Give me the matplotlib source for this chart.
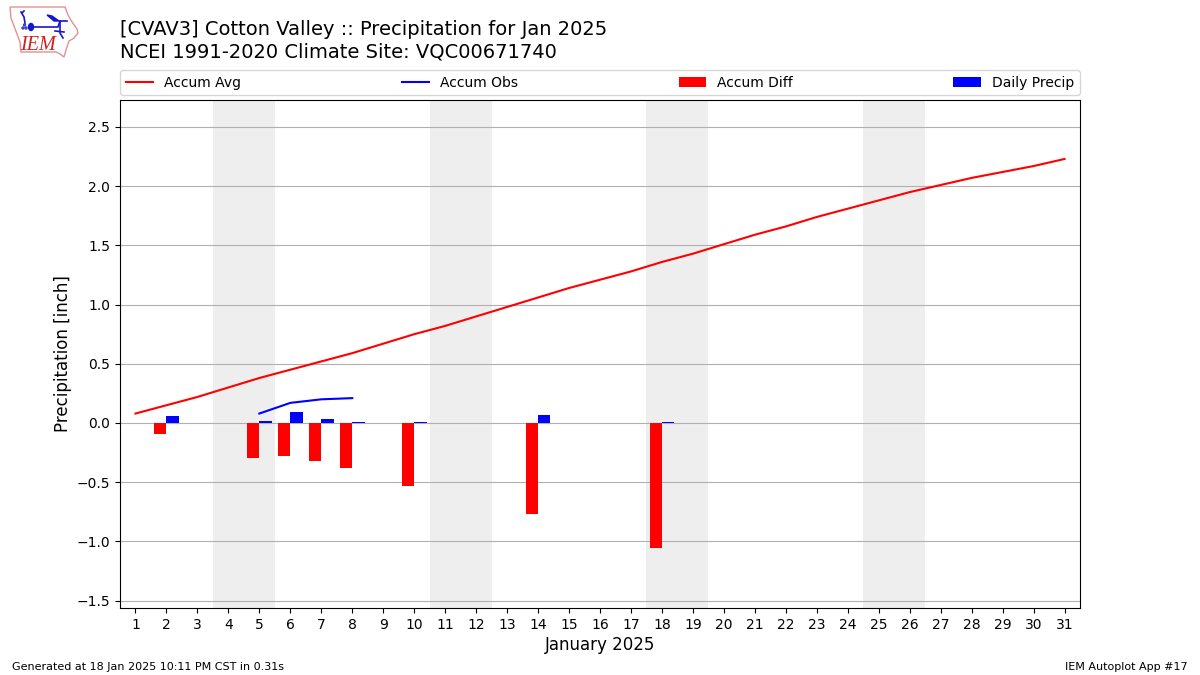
"""IEM Autoplot style monthly precipitation chart for Cotton Valley."""

import matplotlib

matplotlib.use("Agg")
import matplotlib.patches as mpatches
import matplotlib.pyplot as plt
import numpy as np

days = np.arange(1, 32)
accum_avg = [0.08, 0.15, 0.22, 0.30, 0.38, 0.45, 0.52, 0.59, 0.67, 0.75, 0.82,
             0.90, 0.98, 1.06, 1.14, 1.21, 1.28, 1.36, 1.43, 1.51, 1.59, 1.66,
             1.74, 1.81, 1.88, 1.95, 2.01, 2.07, 2.12, 2.17, 2.23]
obs_days = [5, 6, 7, 8]
accum_obs = [0.08, 0.17, 0.20, 0.21]
bar_days = [2, 5, 6, 7, 8, 10, 14, 18]
accum_diff = [-0.09, -0.295, -0.28, -0.32, -0.38, -0.53, -0.77, -1.055]
daily_precip = [0.06, 0.02, 0.09, 0.03, 0.01, 0.01, 0.07, 0.01]
weekends = [(3.5, 5.5), (10.5, 12.5), (17.5, 19.5), (24.5, 26.5)]
title = "[CVAV3] Cotton Valley :: Precipitation for Jan 2025\nNCEI 1991-2020 Climate Site: VQC00671740"

W, H = 1200, 675


def px(x, y):
    """Figure fraction from reference pixel position."""
    return x / W, 1 - y / H


def draw_logo(fig):
    # rough redraw of the IEM logo, state outline plus the blue station mark
    outline = [(10, 7), (65, 7), (68, 15), (72, 22), (77, 29), (78, 33), (74, 38), (69, 41),
               (66, 50), (64, 57), (60, 54), (56, 52), (21, 52), (20, 42), (14, 26), (11, 18)]
    fig.add_artist(mpatches.Polygon([px(*p) for p in outline], closed=True, fill=False,
                                    edgecolor="#e59090", linewidth=1.0,
                                    transform=fig.transFigure))
    segments = [
        [(31, 27), (43, 27), (58, 27), (60, 21), (67, 21)],
        [(60, 21), (60, 33), (63, 38)],
        [(55, 31), (64, 32)],
        [(25, 23), (24, 17), (21, 12)],
        [(22, 13), (24, 11)],
    ]
    for seg in segments:
        xs, ys = zip(*[px(*p) for p in seg])
        fig.add_artist(plt.Line2D(xs, ys, color="#1515d5", linewidth=1.2,
                                  transform=fig.transFigure))
    wing = [(47, 15), (52, 16), (59, 21), (54, 21)]
    fig.add_artist(mpatches.Polygon([px(*p) for p in wing], closed=True, color="#1515d5",
                                    transform=fig.transFigure))
    fig.add_artist(mpatches.Ellipse(px(31, 27), 5 / W, 7 / H, color="#1515d5",
                                    transform=fig.transFigure))
    for p in [(23, 28), (26, 28), (24.5, 25)]:
        fig.add_artist(mpatches.Ellipse(px(*p), 2 / W, 2 / H, color="#4040c0",
                                        transform=fig.transFigure))
    x, y = px(37.5, 45.5)
    fig.text(x, y, "IEM", family="Liberation Serif", style="italic", fontsize=14.5,
             color="#d02020", ha="center", va="center")


fig = plt.figure(figsize=(12, 6.75), dpi=100)
ax = fig.add_axes([120 / W, 1 - 608 / H, 960 / W, 508 / H])

for start, end in weekends:
    ax.axvspan(start, end, color="#eeeeee", zorder=1, linewidth=0)

ax.plot(days, accum_avg, color="r", label="Accum Avg", zorder=4)
ax.plot(obs_days, accum_obs, color="b", label="Accum Obs", zorder=4)
ax.bar(np.array(bar_days) - 0.2, accum_diff, width=0.4, color="r", label="Accum Diff", zorder=3)
ax.bar(np.array(bar_days) + 0.2, daily_precip, width=0.4, color="b", label="Daily Precip", zorder=3)

ax.set_xlim(0.5, 31.5)
ax.set_ylim(-1.5625, 2.728)
ax.set_xticks(days)
ax.set_yticks(np.arange(-1.5, 2.6, 0.5))
ax.grid(axis="y", zorder=2)
ax.set_xlabel("January 2025", fontsize=12, labelpad=3)
ax.set_ylabel("Precipitation [inch]", fontsize=12, labelpad=3)

ax.legend(loc="lower left", bbox_to_anchor=(0, 1.0095, 1, 0.05), ncol=4, mode="expand",
          borderaxespad=0, fontsize=10)

fig.text(120 / W, 1 - 61 / H, title, fontsize=14, ha="left", va="bottom")
fig.text(12 / W, 1 - 667 / H, "Generated at 18 Jan 2025 10:11 PM CST in 0.31s",
         fontsize=8, ha="left", va="center")
fig.text(1188 / W, 1 - 667 / H, "IEM Autoplot App #17", fontsize=8, ha="right", va="center")
draw_logo(fig)

fig.savefig("out.png", dpi=100)
